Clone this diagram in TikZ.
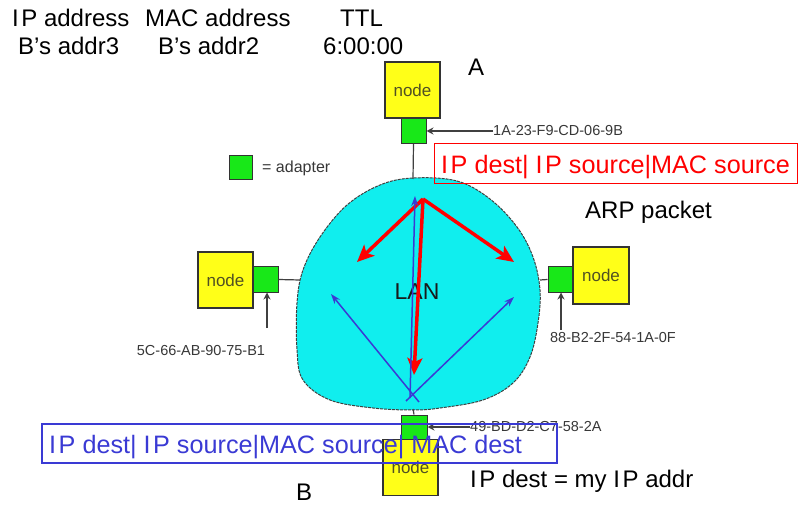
\documentclass[tikz,border=0pt]{standalone}
\usepackage{fontspec}
\setmainfont{Liberation Sans}
\usetikzlibrary{arrows.meta}

\definecolor{lancyan}{RGB}{16,238,238}
\definecolor{hostyellow}{RGB}{255,255,24}
\definecolor{nicgreen}{RGB}{24,232,24}
\definecolor{pktred}{RGB}{255,0,0}
\definecolor{pktblue}{RGB}{58,58,212}
\definecolor{hosttext}{RGB}{80,80,35}
\definecolor{macgray}{RGB}{55,55,55}

\newcommand{\IPtxt}{I\kern2.5pt P}

\tikzset{
  hostbox/.style={draw=black!80, line width=1.2pt, fill=hostyellow,
    minimum width=55pt, minimum height=56pt, inner sep=0pt,
    font=\fontsize{17}{17}\selectfont, text=hosttext},
  nicbox/.style={draw=black!80, line width=1pt, fill=nicgreen,
    minimum width=25pt, minimum height=25pt, inner sep=0pt},
  maclabel/.style={font=\fontsize{14.5}{15}\selectfont, text=macgray, inner sep=0pt},
  bigtext/.style={font=\fontsize{24}{24}\selectfont, inner sep=0pt, anchor=base west},
  pkttext/.style={font=\fontsize{25.2}{25.2}\selectfont, inner sep=0pt, anchor=base west},
  wire/.style={draw=black!75, line width=1.2pt},
  macarrow/.style={draw=black!75, line width=1.2pt, -{Stealth[length=7pt,width=7pt]}},
  redarrow/.style={draw=pktred, line width=3.5pt, -{Stealth[length=17pt,width=15pt,inset=4pt]}},
  bluearrow/.style={draw=pktblue, line width=1.5pt, -{Stealth[length=10pt,width=7pt]}},
}

\begin{document}
\begin{tikzpicture}[x=1pt,y=-1pt]
\useasboundingbox (0,0) rectangle (798,505);

% ARP table entry
\node[bigtext] (hIP)  at (12,27)  {\IPtxt{} address};
\node[bigtext] (hMAC) at (145,27) {MAC address};
\node[bigtext] (hTTL) at (340,27) {TTL};
\node[bigtext] (vIP)  at (18,55)  {B’s addr3};
\node[bigtext] (vMAC) at (158,55) {B’s addr2};
\node[bigtext] (vTTL) at (323,55) {6:00:00};

% the LAN cloud
\path[fill=lancyan, draw=black!75, line width=1pt, dash pattern=on 3pt off 1pt]
  plot[smooth cycle, tension=0.6] coordinates {
    (413,178) (457,181) (490,199) (517,227) (533,257) (540,290) (538,323)
    (530,357) (513,383) (483,400) (440,408) (413,410) (373,408) (330,400)
    (303,380) (297,350) (297,303) (303,270) (320,237) (347,205) (380,185)};
\node[font=\fontsize{23}{23}\selectfont, text=black!90] (lan) at (417,292) {LAN};

% hosts and their adapters
\node[hostbox] (hostA) at (412.5,90) {node};
\node[nicbox]  (nicA)  at (413.5,131) {};
\node[hostbox] (hostL) at (225.5,280) {node};
\node[nicbox]  (nicL)  at (265.5,279.5) {};
\node[nicbox]  (nicR)  at (560.5,279.5) {};
\node[hostbox, minimum width=56pt, minimum height=57pt] (hostR) at (601,275.5) {node};
\node[nicbox, minimum height=24pt, minimum width=26pt] (nicB) at (414,427) {};
\node[hostbox] (hostB) at (410.5,467.5) {node};

% attachment points on the cloud
\coordinate (lanTop) at (413,179);
\coordinate (lanL)   at (300,280);
\coordinate (lanR)   at (540,280);
\coordinate (lanBot) at (413,409);
\draw[wire] (nicA.south) -- (lanTop);
\draw[wire] (nicL.east) -- (lanL);
\draw[wire] (nicR.west) -- (lanR);
\draw[wire] (lanBot) -- (nicB.north);

% adapter legend
\node[nicbox, minimum width=23pt, minimum height=24pt] (legend) at (240.5,168) {};
\node[maclabel, font=\fontsize{16}{16}\selectfont, anchor=west] (legendtxt) at (262,168) {= adapter};

% MAC addresses
\node[maclabel, anchor=west] (macA) at (493,131) {1A-23-F9-CD-06-9B};
\draw[macarrow] (macA.west) -- (nicA.east);
\node[maclabel] (macL) at (201,351) {5C-66-AB-90-75-B1};
\coordinate (macLtail) at (267,328);
\draw[macarrow] (macLtail) -- (nicL.south -| macLtail);
\node[maclabel] (macR) at (613,338) {88-B2-2F-54-1A-0F};
\coordinate (macRtail) at (561,330);
\draw[macarrow] (macRtail) -- (nicR.south -| macRtail);
\node[maclabel, anchor=west] (macB) at (470,427) {49-BD-D2-C7-58-2A};
\draw[macarrow] (macB.west) -- (nicB.east);

% broadcast query from A (red) and reply from B (blue)
\coordinate (rq) at (423,199);
\coordinate (rqL) at (357,262);
\coordinate (rqR) at (514,262);
\coordinate (rqD) at (414,375);
\draw[redarrow] (rq) -- (rqL);
\draw[redarrow] (rq) -- (rqR);
\draw[redarrow] (rq) -- (rqD);

\coordinate (rpV) at (410,398);
\coordinate (rpL) at (419,402);
\coordinate (rpR) at (406,401);
\coordinate (rpVtip) at (415,196);
\coordinate (rpLtip) at (331,294);
\coordinate (rpRtip) at (514,297);
\draw[bluearrow] (rpV) -- (rpVtip);
\draw[bluearrow] (rpL) -- (rpLtip);
\draw[bluearrow] (rpR) -- (rpRtip);

% labels
\node[bigtext] (lblA) at (468,76) {A};
\node[bigtext] (lblB) at (296,500) {B};
\node[bigtext] (arp) at (585,219) {ARP packet};
\node[bigtext] (mine) at (470,487) {\IPtxt{} dest = my \IPtxt{} addr};

% packet formats
\node[draw=pktred, line width=1.5pt, minimum width=363pt, minimum height=40pt,
      anchor=north west, inner sep=0pt] (query) at (433.5,143) {};
\node[pkttext, text=pktred] (querytxt) at (441,174)
  {\IPtxt{} dest|\ \IPtxt{} source|MAC source};
\node[draw=pktblue, line width=1.5pt, minimum width=515pt, minimum height=39pt,
      anchor=north west, inner sep=0pt] (reply) at (41,423) {};
\node[pkttext, text=pktblue] (replytxt) at (49,453)
  {\IPtxt{} dest|\ \IPtxt{} source|MAC source|\ MAC dest};
\end{tikzpicture}
\end{document}
